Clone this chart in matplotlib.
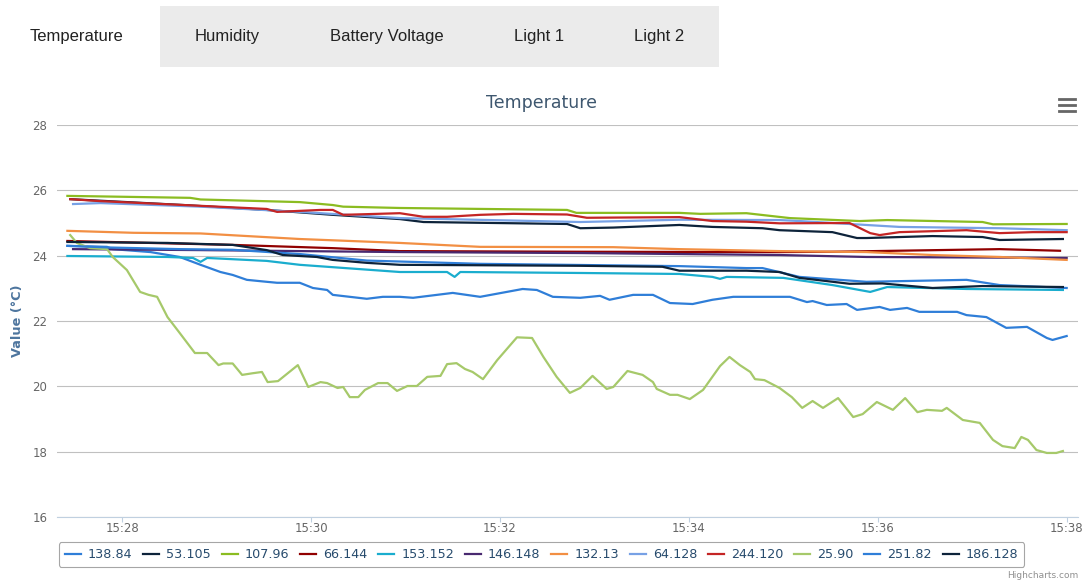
import matplotlib
matplotlib.use("Agg")
import matplotlib.pyplot as plt
from matplotlib.lines import Line2D
from matplotlib.patches import Rectangle
from matplotlib.ticker import FuncFormatter

# time in minutes after 15:00, temperature in degC
t_138_84 = [27.42, 27.84, 27.90, 28.30, 28.61, 28.83, 29.04, 29.17, 29.32, 29.53, 29.64, 29.88, 30.02,
            30.17, 30.23, 30.41, 30.59, 30.76, 30.94, 31.08, 31.50, 31.79, 32.24, 32.39, 32.56, 32.85,
            33.06, 33.16, 33.41, 33.62, 33.80, 34.04, 34.25, 34.47, 35.07, 35.25, 35.31, 35.46, 35.67,
            35.78, 36.02, 36.13, 36.31, 36.44, 36.84, 36.94, 37.15, 37.36, 37.58, 37.79, 37.85, 38.00]
v_138_84 = [24.30, 24.27, 24.20, 24.11, 23.96, 23.72, 23.50, 23.41, 23.26, 23.20, 23.17, 23.17, 23.01,
            22.95, 22.80, 22.74, 22.68, 22.74, 22.74, 22.71, 22.86, 22.74, 22.98, 22.95, 22.74, 22.71,
            22.77, 22.65, 22.80, 22.80, 22.55, 22.52, 22.65, 22.74, 22.74, 22.58, 22.61, 22.49, 22.52,
            22.34, 22.43, 22.34, 22.40, 22.28, 22.28, 22.18, 22.12, 21.79, 21.82, 21.48, 21.42, 21.54]

t_53_105 = [27.45, 28.05, 28.65, 29.53, 30.23, 30.94, 31.19, 32.71, 32.85, 33.20, 33.90, 34.25, 34.78,
            34.96, 35.52, 35.78, 35.88, 36.58, 37.11, 37.29, 37.96]
v_53_105 = [25.73, 25.64, 25.55, 25.40, 25.25, 25.12, 25.03, 24.97, 24.84, 24.86, 24.94, 24.88, 24.84,
            24.78, 24.72, 24.54, 24.54, 24.60, 24.57, 24.48, 24.51]

t_107_96 = [27.42, 28.72, 28.83, 29.88, 30.23, 30.34, 30.94, 32.71, 32.81, 33.90, 34.12, 34.61, 35.07,
            35.81, 36.10, 37.11, 37.22, 38.00]
v_107_96 = [25.83, 25.77, 25.72, 25.64, 25.55, 25.50, 25.46, 25.40, 25.31, 25.31, 25.28, 25.30, 25.15,
            25.06, 25.09, 25.03, 24.96, 24.97]

t_66_144 = [27.42, 29.17, 30.23, 30.94, 32.85, 34.96, 35.52, 37.29, 37.93]
v_66_144 = [24.45, 24.33, 24.23, 24.14, 24.12, 24.11, 24.12, 24.20, 24.15]

t_153_152 = [27.42, 28.48, 28.75, 28.83, 28.90, 29.53, 29.88, 30.94, 31.44, 31.52, 31.58, 32.85, 33.90,
             34.25, 34.33, 34.40, 35.00, 35.52, 35.92, 36.10, 36.94, 37.96]
v_153_152 = [23.99, 23.96, 23.93, 23.81, 23.93, 23.84, 23.72, 23.50, 23.50, 23.35, 23.50, 23.47, 23.44,
             23.35, 23.29, 23.35, 23.32, 23.10, 22.89, 23.04, 22.98, 22.95]

t_146_148 = [27.48, 28.83, 30.94, 32.85, 34.96, 35.88, 38.00]
v_146_148 = [24.20, 24.17, 24.11, 24.08, 24.02, 23.96, 23.93]

t_132_13 = [27.42, 28.12, 28.83, 29.88, 30.94, 31.79, 33.20, 33.90, 34.96, 35.88, 36.58, 37.29, 38.00]
v_132_13 = [24.76, 24.70, 24.68, 24.51, 24.39, 24.27, 24.26, 24.20, 24.14, 24.11, 24.02, 23.96, 23.87]

t_64_128 = [27.48, 27.77, 28.83, 29.88, 30.94, 32.85, 33.90, 34.96, 35.17, 36.23, 37.29, 38.00]
v_64_128 = [25.58, 25.61, 25.50, 25.34, 25.15, 25.03, 25.10, 25.09, 25.06, 24.88, 24.84, 24.78]

t_244_120 = [27.45, 27.77, 28.65, 29.53, 29.64, 30.10, 30.23, 30.34, 30.94, 31.19, 31.44, 31.79, 32.14,
             32.71, 32.92, 33.90, 34.25, 34.61, 34.96, 35.70, 35.92, 36.02, 36.23, 36.94, 37.29, 37.64,
             38.00]
v_244_120 = [25.73, 25.67, 25.55, 25.43, 25.34, 25.40, 25.40, 25.25, 25.30, 25.19, 25.19, 25.25, 25.28,
             25.26, 25.16, 25.18, 25.06, 25.04, 24.99, 25.00, 24.69, 24.63, 24.72, 24.78, 24.69, 24.72,
             24.72]

t_25_90 = [27.45, 27.52, 27.66, 27.84, 27.90, 28.05, 28.19, 28.28, 28.37, 28.48, 28.61, 28.77, 28.90,
           29.02, 29.07, 29.17, 29.27, 29.38, 29.48, 29.54, 29.65, 29.86, 29.97, 30.10, 30.17, 30.28,
           30.34, 30.41, 30.50, 30.57, 30.71, 30.81, 30.91, 31.02, 31.12, 31.23, 31.37, 31.44, 31.54,
           31.63, 31.71, 31.82, 31.97, 32.18, 32.34, 32.46, 32.60, 32.74, 32.85, 32.98, 33.13, 33.20,
           33.35, 33.51, 33.62, 33.66, 33.80, 33.88, 34.01, 34.15, 34.33, 34.43, 34.54, 34.65, 34.70,
           34.80, 34.96, 35.09, 35.20, 35.31, 35.42, 35.58, 35.74, 35.84, 35.99, 36.16, 36.29, 36.42,
           36.52, 36.68, 36.73, 36.90, 37.08, 37.22, 37.32, 37.45, 37.52, 37.59, 37.68, 37.79, 37.89,
           37.96]
v_25_90 = [24.63, 24.39, 24.23, 24.20, 23.96, 23.56, 22.89, 22.80, 22.74, 22.12, 21.63, 21.02, 21.02,
           20.65, 20.70, 20.70, 20.35, 20.40, 20.44, 20.13, 20.16, 20.65, 19.98, 20.13, 20.10, 19.95,
           19.98, 19.67, 19.67, 19.89, 20.10, 20.10, 19.86, 20.01, 20.01, 20.29, 20.32, 20.68, 20.71,
           20.53, 20.44, 20.22, 20.80, 21.50, 21.48, 20.90, 20.29, 19.80, 19.95, 20.32, 19.92, 19.98,
           20.47, 20.35, 20.13, 19.92, 19.74, 19.74, 19.61, 19.89, 20.62, 20.90, 20.65, 20.44, 20.22,
           20.19, 19.95, 19.67, 19.34, 19.55, 19.34, 19.64, 19.06, 19.15, 19.52, 19.28, 19.64, 19.21,
           19.28, 19.25, 19.34, 18.97, 18.88, 18.36, 18.17, 18.11, 18.45, 18.36, 18.05, 17.96, 17.96,
           18.02]

t_251_82 = [27.42, 27.87, 28.61, 29.17, 29.88, 30.59, 31.79, 33.90, 34.61, 34.78, 35.17, 35.88, 36.94,
            37.29, 38.00]
v_251_82 = [24.30, 24.25, 24.20, 24.18, 24.05, 23.85, 23.75, 23.68, 23.62, 23.62, 23.35, 23.20, 23.26,
            23.10, 23.01]

t_186_128 = [27.42, 28.48, 29.17, 29.53, 29.70, 30.06, 30.23, 30.59, 30.94, 32.85, 33.72, 33.90, 34.61,
             34.96, 35.17, 35.70, 36.05, 36.58, 37.11, 37.96]
v_186_128 = [24.42, 24.39, 24.33, 24.17, 24.02, 23.96, 23.87, 23.78, 23.72, 23.69, 23.66, 23.54, 23.54,
             23.50, 23.32, 23.14, 23.15, 23.01, 23.07, 23.04]

names = ["138.84", "53.105", "107.96", "66.144", "153.152", "146.148",
         "132.13", "64.128", "244.120", "25.90", "251.82", "186.128"]
times = [t_138_84, t_53_105, t_107_96, t_66_144, t_153_152, t_146_148,
         t_132_13, t_64_128, t_244_120, t_25_90, t_251_82, t_186_128]
values = [v_138_84, v_53_105, v_107_96, v_66_144, v_153_152, v_146_148,
          v_132_13, v_64_128, v_244_120, v_25_90, v_251_82, v_186_128]
colors = ["#2f7ed8", "#0d233a", "#8bbc21", "#910000", "#1aadce", "#492970",
          "#f28f43", "#77a1e5", "#c42525", "#a6c96a", "#2f7ed8", "#0d233a"]

tabs = ["Temperature", "Humidity", "Battery Voltage", "Light 1", "Light 2"]
tab_x = [77, 227, 387, 539, 659]

W, H = 1089, 583
fig = plt.figure(figsize=(W / 100, H / 100), dpi=100)

# tab bar
fig.patches.append(Rectangle((160 / W, 1 - 67 / H), (719 - 160) / W, 61 / H,
                             transform=fig.transFigure, facecolor="#ebebeb", edgecolor="none"))
for name, x in zip(tabs, tab_x):
    fig.text(x / W, 1 - 36 / H, name, ha="center", va="center", fontsize=12,
             family="Liberation Sans", color="#222222")

ax = fig.add_axes([57 / W, 1 - 517 / H, (1078 - 57) / W, (517 - 125) / H])
for t, v, c, n in zip(times, values, colors, names):
    ax.plot(t, v, color=c, lw=1.6, label=n, solid_joinstyle="round")

ax.set_xlim(27.31, 38.12)
ax.set_ylim(16, 28)
ax.set_yticks(range(16, 29, 2))
ax.set_xticks(range(28, 39, 2))
ax.xaxis.set_major_formatter(FuncFormatter(lambda x, p: f"15:{int(round(x)):02d}"))
ax.grid(axis="y", color="#c0c0c0", lw=0.8)
ax.set_axisbelow(True)
for s in ["top", "left", "right"]:
    ax.spines[s].set_visible(False)
ax.spines["bottom"].set_color("#c0d0e0")
ax.spines["bottom"].set_linewidth(0.8)
ax.tick_params(axis="y", length=0, pad=7, labelsize=8.5, labelcolor="#666666")
ax.tick_params(axis="x", length=3.6, width=0.8, color="#c0d0e0", pad=0,
               labelsize=8.5, labelcolor="#666666")
ax.set_ylabel("Value (°C)", fontsize=9.3, fontweight="bold", color="#4d759e", labelpad=6)

fig.text(0.497, 1 - 103 / H, "Temperature", ha="center", va="center",
         fontsize=12.5, color="#3e576f")

# export menu icon
for y in [99, 105, 111]:
    fig.add_artist(Line2D([1059 / W, 1075 / W], [1 - y / H, 1 - y / H],
                          transform=fig.transFigure, color="#666666", lw=2))

leg = fig.legend(*ax.get_legend_handles_labels(), ncol=12, loc="center",
                 bbox_to_anchor=(541.5 / W, 1 - 554.5 / H), frameon=True, fancybox=True,
                 edgecolor="#909090", fontsize=9.2, handlelength=1.25, handletextpad=0.55,
                 columnspacing=0.85, borderpad=0.45, labelcolor="#274b6d")
leg.get_frame().set_linewidth(0.8)
for line in leg.get_lines():
    line.set_linewidth(1.6)

fig.text(1078 / W, 1 - 576 / H, "Highcharts.com", ha="right", va="center",
         fontsize=6.5, color="#909090")

fig.savefig("out.png", dpi=100)
